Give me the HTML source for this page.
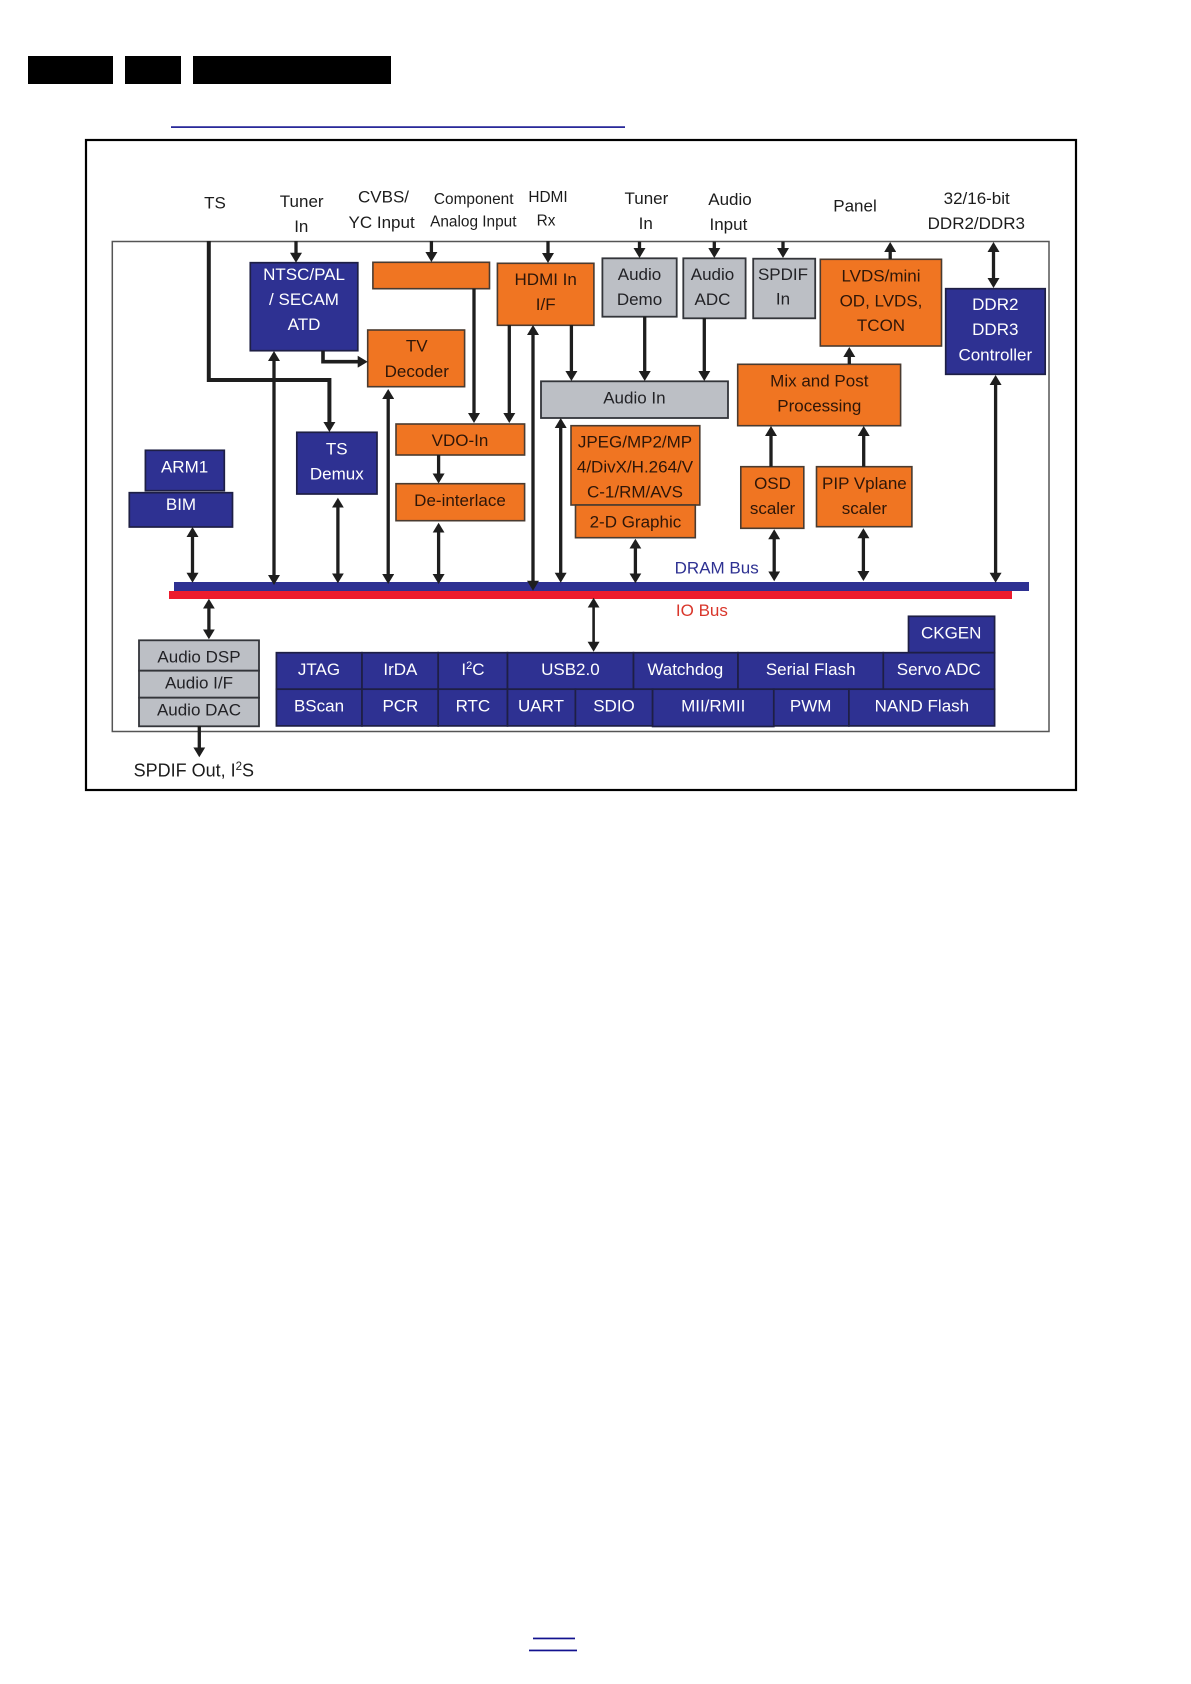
<!DOCTYPE html>
<html lang="en">
<head>
<meta charset="utf-8">
<title>Block diagram</title>
<style>
html,body{margin:0;padding:0;background:#fff;width:1191px;height:1684px;overflow:hidden}
svg{display:block;filter:blur(.35px)}
text{font-family:"Liberation Sans",sans-serif;font-size:17px;text-anchor:middle}
.k text,text.k{fill:#1c1c1c}
.s{font-size:15.4px}
.w text{fill:#fff}
.o text{fill:#2e1608}
.g text{fill:#222226}
.b rect{fill:#2e3192;stroke:#1e1f45;stroke-width:1.7}
.r rect{fill:#f07522;stroke:#4a3b30;stroke-width:1.6}
.y rect{fill:#bcbfc5;stroke:#33353a;stroke-width:1.8}
.a path{fill:none;stroke:#1e1e1e;stroke-width:3.3}
</style>
</head>
<body>
<svg width="1191" height="1684" viewBox="0 0 1191 1684" xmlns="http://www.w3.org/2000/svg">
<defs>
<marker id="h" markerUnits="userSpaceOnUse" markerWidth="12" markerHeight="12" refX="2" refY="6" orient="auto-start-reverse"><path d="M0 0L10 6L0 12z" fill="#1e1e1e"/></marker>
</defs>

<!-- header bars -->
<rect x="28" y="56" width="85" height="28" fill="#000"/>
<rect x="125" y="56" width="56" height="28" fill="#000"/>
<rect x="193" y="56" width="198" height="28" fill="#000"/>
<rect x="171" y="126.3" width="454" height="1.6" fill="#12128f"/>

<!-- frames -->
<rect x="86" y="140" width="990" height="650" fill="#fff" stroke="#000" stroke-width="2.2"/>
<rect x="112.3" y="241.5" width="936.7" height="490" fill="#fff" stroke="#555" stroke-width="1.5"/>

<!-- buses -->
<rect x="174" y="582" width="855" height="9" fill="#2e3192"/>
<rect x="169" y="591" width="843" height="8" fill="#ed1c2e"/>

<!-- blue blocks -->
<g class="b w">
<rect x="250.3" y="262.7" width="107.5" height="88"/>
<rect x="945.7" y="288.7" width="99.5" height="85.6"/>
<rect x="296.8" y="432.3" width="80.2" height="61.7"/>
<rect x="145.4" y="450.3" width="78.9" height="40.4"/>
<rect x="129.3" y="492.7" width="103.2" height="34.3"/>
<rect x="908.5" y="616.3" width="86.1" height="36.4"/>
<rect x="276.4" y="652.7" width="85.6" height="36.5"/>
<rect x="362" y="652.7" width="76.2" height="36.5"/>
<rect x="438.2" y="652.7" width="69.3" height="36.5"/>
<rect x="507.5" y="652.7" width="126" height="36.5"/>
<rect x="633.5" y="652.7" width="104.5" height="36.5"/>
<rect x="738" y="652.7" width="145.3" height="36.5"/>
<rect x="883.3" y="652.7" width="111.3" height="36.5"/>
<rect x="276.4" y="689.2" width="85.6" height="36.7"/>
<rect x="362" y="689.2" width="76.2" height="36.7"/>
<rect x="438.2" y="689.2" width="69.3" height="36.7"/>
<rect x="507.5" y="689.2" width="67.9" height="36.7"/>
<rect x="575.4" y="689.2" width="77.2" height="36.7"/>
<rect x="652.6" y="689.2" width="121.2" height="37.3"/>
<rect x="773.8" y="689.2" width="75.1" height="36.7"/>
<rect x="848.9" y="689.2" width="145.7" height="36.7"/>
<text x="304" y="280">NTSC/PAL</text>
<text x="304" y="305">/ SECAM</text>
<text x="304" y="330">ATD</text>
<text x="995.3" y="310">DDR2</text>
<text x="995.3" y="335">DDR3</text>
<text x="995.3" y="360.7">Controller</text>
<text x="336.8" y="454.3">TS</text>
<text x="336.8" y="479.3">Demux</text>
<text x="184.6" y="472.3">ARM1</text>
<text x="181" y="510">BIM</text>
<text x="951.2" y="638.3">CKGEN</text>
<text x="319" y="675">JTAG</text>
<text x="400.4" y="675">IrDA</text>
<text x="472.9" y="675">I<tspan dy="-6" font-size="11">2</tspan><tspan dy="6">C</tspan></text>
<text x="570.4" y="675">USB2.0</text>
<text x="685.3" y="675">Watchdog</text>
<text x="810.7" y="675">Serial Flash</text>
<text x="938.8" y="675">Servo ADC</text>
<text x="319" y="711.3">BScan</text>
<text x="400.4" y="711.3">PCR</text>
<text x="472.9" y="711.3">RTC</text>
<text x="541" y="711.3">UART</text>
<text x="614" y="711.3">SDIO</text>
<text x="713.2" y="711.3">MII/RMII</text>
<text x="810.7" y="711.3">PWM</text>
<text x="921.9" y="711.3">NAND Flash</text>
</g>

<!-- orange blocks -->
<g class="r o">
<rect x="372.9" y="262.3" width="116.6" height="26.4"/>
<rect x="497.4" y="263.3" width="96.5" height="62"/>
<rect x="367.7" y="330" width="96.9" height="56.7"/>
<rect x="820.3" y="259.3" width="121.2" height="86.7"/>
<rect x="737.7" y="364.3" width="162.9" height="61.4"/>
<rect x="571" y="425.7" width="128.8" height="79.3"/>
<rect x="575.5" y="505" width="119.8" height="32.7"/>
<rect x="740.8" y="466.7" width="63" height="61.6"/>
<rect x="816.5" y="466.7" width="95.4" height="60"/>
<rect x="396" y="424" width="128.6" height="31"/>
<rect x="396" y="483.7" width="128.6" height="37"/>
<text x="545.7" y="285">HDMI In</text>
<text x="545.7" y="310">I/F</text>
<text x="416.8" y="351.7">TV</text>
<text x="416.8" y="377">Decoder</text>
<text x="881" y="281.7">LVDS/mini</text>
<text x="881" y="306.7">OD, LVDS,</text>
<text x="881" y="331">TCON</text>
<text x="819.3" y="386.7">Mix and Post</text>
<text x="819.3" y="411.7">Processing</text>
<text x="635" y="447.7">JPEG/MP2/MP</text>
<text x="635" y="472.7">4/DivX/H.264/V</text>
<text x="635" y="497.7">C-1/RM/AVS</text>
<text x="635.4" y="527.7">2-D Graphic</text>
<text x="772.5" y="489">OSD</text>
<text x="772.5" y="514">scaler</text>
<text x="864.4" y="489">PIP Vplane</text>
<text x="864.4" y="514">scaler</text>
<text x="460" y="446">VDO-In</text>
<text x="460" y="506">De-interlace</text>
</g>

<!-- grey blocks -->
<g class="y g">
<rect x="602.4" y="258.3" width="74.3" height="58.4"/>
<rect x="683.3" y="258.3" width="62.3" height="60"/>
<rect x="753.2" y="258.7" width="62" height="59.6"/>
<rect x="541" y="381.3" width="187" height="36.7"/>
<rect x="139" y="640.3" width="120" height="30.4"/>
<rect x="139" y="670.7" width="120" height="27"/>
<rect x="139" y="697.7" width="120" height="28.6"/>
<text x="639.5" y="280">Audio</text>
<text x="639.5" y="305">Demo</text>
<text x="712.5" y="280">Audio</text>
<text x="712.5" y="305">ADC</text>
<text x="783" y="280">SPDIF</text>
<text x="783" y="304.3">In</text>
<text x="634.4" y="403.3">Audio In</text>
<text x="199" y="662.3">Audio DSP</text>
<text x="199" y="688.7">Audio I/F</text>
<text x="199" y="715.3">Audio DAC</text>
</g>

<!-- connectors -->
<g class="a">
<path d="M296 241V254.7" marker-end="url(#h)"/>
<path d="M431.4 241V254" marker-end="url(#h)"/>
<path d="M548 241V255" marker-end="url(#h)"/>
<path d="M639.5 241.7V250" marker-end="url(#h)"/>
<path d="M714.3 241.7V250" marker-end="url(#h)"/>
<path d="M783 241.7V250" marker-end="url(#h)"/>
<path d="M474 288.7V415" marker-end="url(#h)"/>
<path d="M509.3 325V415" marker-end="url(#h)"/>
<path d="M571.4 325V373" marker-end="url(#h)"/>
<path d="M644.7 316.7V373" marker-end="url(#h)"/>
<path d="M704.3 318V373" marker-end="url(#h)"/>
<path d="M438.6 455V475.5" marker-end="url(#h)"/>
<path d="M199.3 726V749.3" marker-end="url(#h)"/>
<path d="M890.2 259V250" marker-end="url(#h)"/>
<path d="M849.3 364V355" marker-end="url(#h)"/>
<path d="M771 466.7V434" marker-end="url(#h)"/>
<path d="M863.7 466.7V434" marker-end="url(#h)"/>
<path d="M993.5 250V280" marker-start="url(#h)" marker-end="url(#h)"/>
<path d="M274 359V577" marker-start="url(#h)" marker-end="url(#h)"/>
<path d="M388.2 397V576" marker-start="url(#h)" marker-end="url(#h)"/>
<path d="M533 333V582.7" marker-start="url(#h)" marker-end="url(#h)"/>
<path d="M560.7 426V574.7" marker-start="url(#h)" marker-end="url(#h)"/>
<path d="M192.5 535V574.7" marker-start="url(#h)" marker-end="url(#h)"/>
<path d="M337.9 505.7V575.3" marker-start="url(#h)" marker-end="url(#h)"/>
<path d="M438.6 530.7V576" marker-start="url(#h)" marker-end="url(#h)"/>
<path d="M635.4 546.7V575.3" marker-start="url(#h)" marker-end="url(#h)"/>
<path d="M774.2 537.3V573.3" marker-start="url(#h)" marker-end="url(#h)"/>
<path d="M863.4 536.3V573" marker-start="url(#h)" marker-end="url(#h)"/>
<path d="M995.6 383V574.7" marker-start="url(#h)" marker-end="url(#h)"/>
<path d="M593.6 605.7V643.7" marker-start="url(#h)" marker-end="url(#h)" style="stroke-width:2.6"/>
<path d="M208.9 606.7V631.3" marker-start="url(#h)" marker-end="url(#h)"/>
<path d="M208.8 241V380H329.4V424" marker-end="url(#h)" style="stroke-width:4"/>
<path d="M323 351V361.7H359.7" marker-end="url(#h)" style="stroke-width:3.6"/>
</g>

<!-- outer labels -->
<g class="k">
<text x="215" y="208.3">TS</text>
<text x="301.7" y="207">Tuner</text>
<text x="301.3" y="232">In</text>
<text x="383.5" y="202.7">CVBS/</text>
<text x="381.6" y="228">YC Input</text>
<text class="s" x="473.7" y="204">Component</text>
<text class="s" x="473.3" y="226.7">Analog Input</text>
<text class="s" x="548" y="202">HDMI</text>
<text class="s" x="546" y="225.3">Rx</text>
<text x="646.4" y="204">Tuner</text>
<text x="645.7" y="229">In</text>
<text x="730" y="205">Audio</text>
<text x="728.4" y="230">Input</text>
<text x="855" y="211.7">Panel</text>
<text x="976.7" y="204">32/16-bit</text>
<text x="976.3" y="229">DDR2/DDR3</text>
<text x="133.6" y="776.7" style="text-anchor:start;font-size:18px">SPDIF Out, I<tspan dy="-6.5" font-size="11.5">2</tspan><tspan dy="6.5">S</tspan></text>
</g>
<text x="716.7" y="573.3" fill="#2e3192">DRAM Bus</text>
<text x="701.9" y="616" fill="#d9362b">IO Bus</text>

<!-- footer lines -->
<rect x="533" y="1637.6" width="42" height="1.7" fill="#12128f"/>
<rect x="529" y="1649.6" width="48" height="1.7" fill="#12128f"/>
</svg>
</body>
</html>
